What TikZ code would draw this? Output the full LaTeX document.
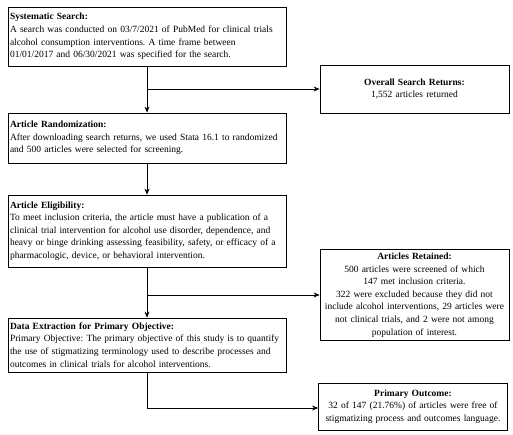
\documentclass[tikz,border=0pt]{standalone}
\usepackage{fontspec}
\setmainfont{Liberation Serif}
\usepackage{tikz}
\usetikzlibrary{arrows.meta}
\frenchspacing

\tikzset{
    leftbox/.style={draw, line width=.8pt, minimum width=278pt, text width=274pt, align=left, inner xsep=2pt, font=\fontsize{9.5}{12.6}\selectfont},
    rightbox/.style={draw, line width=.8pt, minimum width=189pt, text width=185pt, align=center, inner xsep=2pt, font=\fontsize{9.5}{12.6}\selectfont},
    flow/.style={-{Stealth[length=6pt, width=5pt]}, line width=.8pt},
}

\begin{document}
\begin{tikzpicture}[x=1pt, y=-1pt]
        \useasboundingbox (0, 0) rectangle (513, 434);

        \node[leftbox, minimum height=59pt] at (147, 36.5) (search) {\textbf{Systematic Search:}\\
            A search was conducted on 03/7/2021 of PubMed for clinical trials\\
            alcohol consumption interventions. A time frame between\\
            01/01/2017 and 06/30/2021 was specified for the search.};
        \node[leftbox, minimum height=50pt] at (147, 138) (random) {\textbf{Article Randomization:}\\
            After downloading search returns, we used Stata 16.1 to randomized\\
            and 500 articles were selected for screening.};
        \node[leftbox, minimum height=72pt] at (147, 231) (eligible) {\textbf{Article Eligibility:}\\
            To meet inclusion criteria, the article must have a publication of a\\
            clinical trial intervention for alcohol use disorder, dependence, and\\
            heavy or binge drinking assessing feasibility, safety, or efficacy of a\\
            pharmacologic, device, or behavioral intervention.};
        \node[leftbox, minimum height=54pt] at (147, 345) (extract) {\textbf{Data Extraction for Primary Objective:}\\
            Primary Objective: The primary objective of this study is to quantify\\
            the use of stigmatizing terminology used to describe processes and\\
            outcomes in clinical trials for alcohol interventions.};

        \node[rightbox, minimum height=48pt] at (414.5, 89) (returns) {\textbf{Overall Search Returns:}\\
            1,552 articles returned};
        \node[rightbox, minimum height=84pt] at (414.5, 295) (retained) {\textbf{Articles Retained:}\\
            500 articles were screened of which\\
            147 met inclusion criteria.\\
            322 were excluded because they did not\\
            include alcohol interventions, 29 articles were\\
            not clinical trials, and 2 were not among\\
            population of interest.};
        \node[rightbox, minimum height=47pt] at (413, 406.5) (outcome) {\textbf{Primary Outcome:}\\
            32 of 147 (21.76\%) of articles were free of\\
            stigmatizing process and outcomes language.};

        \coordinate (s1) at (search.south |- returns.west);
        \coordinate (s2) at (eligible.south |- retained.west);
        \coordinate (s3) at (147, 408);

        \draw [flow] (search) -- (random);
        \draw [flow] (s1) -- (returns.west);
        \draw [flow] (random) -- (eligible);
        \draw [flow] (eligible) -- (extract);
        \draw [flow] (s2) -- (retained.west);
        \draw [flow] (extract.south) -- (s3) -- (s3 -| outcome.west);
    \end{tikzpicture}
\end{document}
